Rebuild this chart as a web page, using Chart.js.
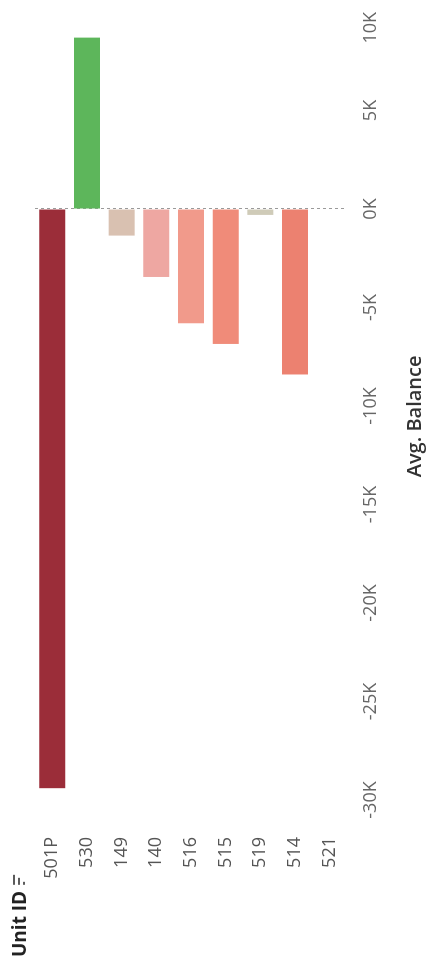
<!DOCTYPE html>
<html>
<head>
<meta charset="utf-8">
<script src="https://cdn.jsdelivr.net/npm/chart.js@4.4.0/dist/chart.umd.min.js"></script>
<style>
  html, body { margin: 0; padding: 0; background: #fff; overflow: hidden; width: 427px; height: 964px; }
  #wrap { position: absolute; left: 0; top: 0; width: 964px; height: 427px;
          transform-origin: 0 0; transform: translateY(964px) rotate(-90deg); }
  canvas { display: block; }
</style>
</head>
<body>
<div id="wrap"><canvas id="c" width="964" height="427"></canvas></div>
<script>
const categories = ['501P', '530', '149', '140', '516', '515', '519', '514', '521'];
const avgBalance = [-29400, 8700, -1350, -3450, -5800, -6850, -300, -8400, 0];
const barColors = ['#9b2d39', '#5db65b', '#d9c1b1', '#eea7a2', '#f19a8b', '#f08b79', '#cfcbb8', '#ec8170', '#ec8170'];
const tickValues = [-30000, -25000, -20000, -15000, -10000, -5000, 0, 5000, 10000];
const xTitle = 'Avg. Balance';
const headerText = 'Unit ID';

const FONT = '"Open Sans", "Noto Sans", sans-serif';

const headerPlugin = {
  id: 'header',
  afterDraw(chart) {
    const ctx = chart.ctx;
    ctx.save();
    ctx.fillStyle = '#222';
    ctx.font = 'bold 19px ' + FONT;
    ctx.textBaseline = 'middle';
    ctx.textAlign = 'left';
    ctx.fillText(headerText, 7, 21);
    const w = ctx.measureText(headerText).width;
    const x0 = 7 + w + 6;
    ctx.strokeStyle = '#333';
    ctx.lineWidth = 1.6;
    [[14, 10], [19, 7], [24, 3]].forEach(([y, len]) => {
      ctx.beginPath(); ctx.moveTo(x0, y); ctx.lineTo(x0 + len, y); ctx.stroke();
    });
    ctx.restore();
  }
};

new Chart(document.getElementById('c'), {
  type: 'bar',
  data: {
    labels: categories,
    datasets: [{
      data: avgBalance,
      backgroundColor: barColors,
      borderWidth: 0,
      barPercentage: 0.75,
      categoryPercentage: 1.0
    }]
  },
  options: {
    indexAxis: 'y',
    responsive: false,
    animation: false,
    layout: { padding: { top: 35, right: 12, bottom: 0, left: 0 } },
    plugins: { legend: { display: false }, tooltip: { enabled: false } },
    scales: {
      x: {
        type: 'linear',
        min: -30000,
        max: 10000,
        // leading placeholder tick keeps -30K centred while the last label sits inside the edge
        afterBuildTicks(scale) { scale.ticks = [{ value: tickValues[0] }].concat(tickValues.map(v => ({ value: v }))); },
        afterFit(scale) { scale.height = 80; scale.paddingLeft = 0; scale.paddingRight = 0; },
        ticks: {
          color: '#666',
          font: { family: FONT, size: 18 },
          padding: 13,
          align: 'inner',
          maxRotation: 0,
          autoSkip: false,
          callback: (v, i) => i === 0 ? '' : (v / 1000) + 'K'
        },
        grid: {
          drawTicks: false,
          lineWidth: 1,
          color: c => (c.tick && c.tick.value === 0) ? '#9a9a9a' : 'rgba(0,0,0,0)'
        },
        border: { display: false, dash: [3, 3] },
        title: {
          display: true,
          text: xTitle + '    ',
          color: '#333',
          font: { family: FONT, size: 20, weight: '600' },
          padding: { top: 0, bottom: 0 }
        }
      },
      y: {
        afterFit(scale) { scale.width = 164; scale.paddingTop = 0; scale.paddingBottom = 0; },
        ticks: {
          color: '#555',
          font: { family: FONT, size: 18 },
          padding: 37,
          autoSkip: false
        },
        grid: { display: false, drawTicks: false },
        border: { display: false }
      }
    }
  },
  plugins: [headerPlugin]
});
</script>
</body>
</html>
